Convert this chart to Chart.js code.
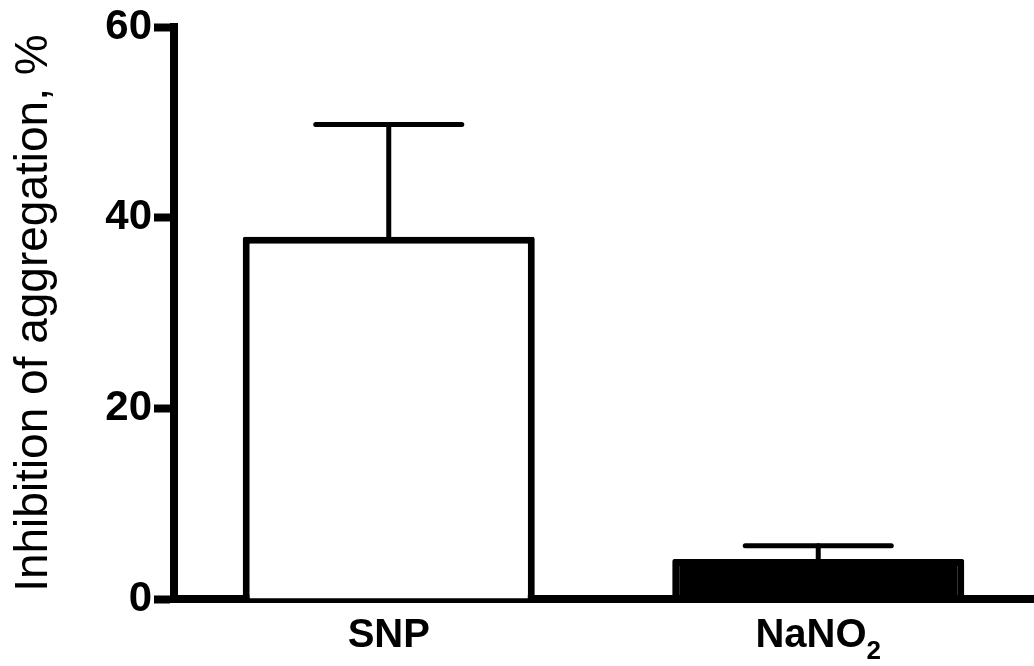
<!DOCTYPE html>
<html>
<head>
<meta charset="utf-8">
<script src="https://cdn.jsdelivr.net/npm/chart.js@4.4.1/dist/chart.umd.min.js"></script>
<style>
  html, body { margin: 0; padding: 0; background: #fff; }
  #wrap { width: 1034px; height: 666px; }
</style>
</head>
<body>
<div id="wrap"><canvas id="c" width="1034" height="666"></canvas></div>
<script>
const categories = ["SNP", "NaNO\u2082"];
const means = [38.0, 4.2];
const sds = [11.8, 1.4];
const fills = ["#ffffff", "#000000"];
const yTicks = [0, 20, 40, 60];
const yTitle = "Inhibition of aggregation, %";

const FONT = 'Liberation Sans, Arial, sans-serif';

const errorBars = {
  id: 'errorBars',
  afterDatasetsDraw(chart) {
    const ctx = chart.ctx;
    const meta = chart.getDatasetMeta(0);
    const ys = chart.scales.y;
    ctx.save();
    ctx.strokeStyle = '#000';
    ctx.lineWidth = 5;
    ctx.lineCap = 'round';
    meta.data.forEach((bar, i) => {
      const x = bar.x;
      const yTop = ys.getPixelForValue(means[i] + sds[i]);
      const yBase = ys.getPixelForValue(means[i]);
      const half = bar.width * 0.25;
      ctx.beginPath();
      ctx.moveTo(x, yBase);
      ctx.lineTo(x, yTop);
      ctx.stroke();
      ctx.beginPath();
      ctx.moveTo(x - half, yTop);
      ctx.lineTo(x + half, yTop);
      ctx.stroke();
    });
    ctx.restore();
  }
};

// Draws category labels, rendering "₂" as a true subscript
const xLabels = {
  id: 'xLabels',
  afterDraw(chart) {
    const ctx = chart.ctx;
    const xs = chart.scales.x;
    const baseY = 647;
    ctx.save();
    ctx.fillStyle = '#000';
    ctx.textBaseline = 'alphabetic';
    ctx.textAlign = 'left';
    categories.forEach((lab, i) => {
      const parts = [];
      for (const ch of lab) {
        if (ch === '\u2082') parts.push({ t: '2', sub: true });
        else parts.push({ t: ch, sub: false });
      }
      let total = 0;
      parts.forEach(p => {
        ctx.font = 'bold ' + (p.sub ? 26 : 40) + 'px ' + FONT;
        p.w = ctx.measureText(p.t).width;
        total += p.w;
      });
      let x = xs.getPixelForTick(i) - total / 2;
      parts.forEach(p => {
        ctx.font = 'bold ' + (p.sub ? 26 : 40) + 'px ' + FONT;
        ctx.fillText(p.t, x, p.sub ? baseY + 12 : baseY);
        x += p.w;
      });
    });
    ctx.restore();
  }
};

new Chart(document.getElementById('c'), {
  type: 'bar',
  data: {
    labels: categories,
    datasets: [{
      data: means,
      backgroundColor: fills,
      borderColor: '#000',
      borderWidth: 7,
      borderRadius: 2,
      borderSkipped: 'bottom',
      barPercentage: 0.68,
      categoryPercentage: 1.0
    }]
  },
  options: {
    responsive: false,
    animation: false,
    devicePixelRatio: 1,
    layout: { padding: { top: 27, right: 1, left: 0, bottom: 0 } },
    plugins: { legend: { display: false }, tooltip: { enabled: false } },
    scales: {
      x: {
        grid: { display: false },
        border: { display: true, color: '#000', width: 8 },
        ticks: { display: false },
        afterFit(scale) { scale.height = 67; }
      },
      y: {
        min: 0, max: 60,
        afterBuildTicks(scale) { scale.ticks = yTicks.map(v => ({ value: v })); },
        grid: {
          display: true,
          drawOnChartArea: false,
          drawTicks: true,
          tickLength: 20,
          tickWidth: 8,
          tickColor: '#000',
          color: '#000'
        },
        border: { display: true, color: '#000', width: 8 },
        ticks: {
          color: '#000',
          padding: 2,
          font: { family: FONT, size: 42, weight: 'bold' }
        },
        title: {
          display: true,
          text: yTitle,
          color: '#000',
          padding: { top: 7, bottom: 0 },
          font: { family: FONT, size: 46, weight: 'normal' }
        },
        afterFit(scale) { scale.width = 174; }
      }
    }
  },
  plugins: [errorBars, xLabels]
});
</script>
</body>
</html>
